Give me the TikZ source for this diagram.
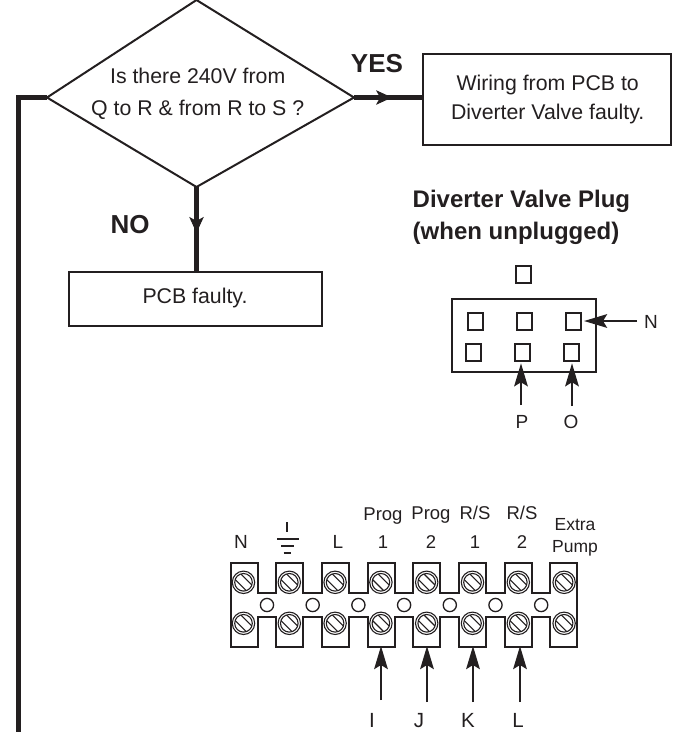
\documentclass[tikz,border=0pt]{standalone}
\usepackage{fontspec}
\setmainfont{Liberation Sans}
\usetikzlibrary{arrows.meta,decorations.markings}
\definecolor{ink}{HTML}{231F20}
\tikzset{
 x=1pt,y=-1pt,
 thin box/.style={draw,line width=2pt,fill=white,inner sep=0pt},
 pin/.style={draw,line width=2pt,fill=white,minimum width=15pt,minimum height=17.5pt,inner sep=0pt},
 label text/.style={font=\fontsize{21.3}{29}\selectfont,align=center,inner sep=0pt},
 small text/.style={font=\fontsize{19}{21}\selectfont,align=center,inner sep=0pt},
 bold text/.style={font=\bfseries\fontsize{26}{30}\selectfont,align=center,inner sep=0pt},
 pointer/.style={line width=2.6pt,-{Stealth[length=23pt,width=13.5pt,inset=4pt]}},
 heavy/.style={line width=5pt},
 midhead/.style={postaction={decorate,decoration={markings,mark=at position #1 with {\arrow[line width=1pt]{Stealth[length=16pt,width=14.5pt,inset=4pt]}}}}},
}
\newcommand{\screw}[2]{%
 \draw[line width=1.1pt,fill=white] (#1,#2) circle (11.2);
 \draw[line width=1.1pt] (#1,#2) circle (8.8);
 \begin{scope}[shift={(#1,#2)}]
 \clip (0,0) circle (8.8);
 \draw[line width=1.1pt] (-9,-3.4)--(3.4,9) (-3.4,-9)--(9,3.4);
 \end{scope}}
\begin{document}
\begin{tikzpicture}[color=ink]
\useasboundingbox (0,0) rectangle (684,732);
% flow
\coordinate (dT) at (196.5,0);
\coordinate (dL) at (47,97.5);
\coordinate (dR) at (354,97.5);
\coordinate (dB) at (196.5,187);
\coordinate (leftEnd) at (18.5,732);
\coordinate (leftCorner) at (18.5,97.5);
\node[thin box,minimum width=248pt,minimum height=91pt] (wiring) at (547,99) {};
\node[label text] (wiringT) at (547.7,99.5) {Wiring from PCB to\\Diverter Valve faulty.};
\node[thin box,minimum width=253pt,minimum height=54pt] (pcb) at (195.5,298.5) {};
\node[label text,anchor=base] (pcbT) at (195,303) {PCB faulty.};
\draw[heavy] (leftEnd) -- (leftCorner) -- (dL);
\draw[heavy,midhead=0.56] (dR) -- (wiring.west |- dR);
\draw[heavy,midhead=0.55] (dB) -- (dB |- pcb.north);
\draw[line width=2pt,line join=miter] (dT) -- (dR) -- (dB) -- (dL) -- cycle;
\node[label text,font=\fontsize{21.3}{32}\selectfont] (q) at (197.7,94) {Is there 240V from\\Q to R \& from R to S ?};
\node[bold text,anchor=base] (yes) at (377,72) {YES};
\node[bold text,anchor=base] (no) at (130,233) {NO};
\node[bold text,font=\bfseries\fontsize{24}{32}\selectfont,align=left,anchor=west] (plugT) at (412.5,217.5) {Diverter Valve Plug\\(when unplugged)};
% plug
\node[draw,line width=2pt,minimum width=144pt,minimum height=73pt,inner sep=0pt] (plug) at (523.5,335) {};
\node[pin] (p0) at (523.5,274.5) {};
\node[pin] (p1) at (475.5,321.5) {};
\node[pin] (p2) at (524.5,321.5) {};
\node[pin] (p3) at (573.5,321.5) {};
\node[pin] (p4) at (473.5,352.5) {};
\node[pin] (p5) at (522.5,352.5) {};
\node[pin] (p6) at (571.5,352.5) {};
\node[small text,anchor=base] (lN) at (651,328) {N};
\node[small text,anchor=base] (lP) at (522,428) {P};
\node[small text,anchor=base] (lO) at (571,428) {O};
\coordinate (aN) at (637,321);
\coordinate (aP) at (521,405);
\coordinate (aO) at (572,406);
\draw[pointer,shorten >=2pt] (aN) -- (aN -| p3.east);
\draw[pointer,shorten >=1pt] (aP) -- (aP |- p5.south);
\draw[pointer,shorten >=1pt] (aO) -- (aO |- p6.south);
% terminal block
\draw[line width=2pt,fill=white] (230.5,562.5)
 \foreach \i in {0,...,6} { -- ++(27,0) -- ++(0,30.5) -- ++(18.7,0) -- ++(0,-30.5) } -- ++(27,0)
 -- ++(0,84)
 \foreach \i in {0,...,6} { -- ++(-27,0) -- ++(0,-30) -- ++(-18.7,0) -- ++(0,30) } -- ++(-27,0) -- cycle;
\foreach \i in {0,...,7} {
 \pgfmathsetmacro{\xx}{243.5+45.8*\i}
 \screw{\xx}{582.3}\screw{\xx}{623.3}
}
\foreach \i in {0,...,6} {
 \pgfmathsetmacro{\xx}{267+45.7*\i}
 \draw[line width=1.3pt] (\xx,605) circle (6.6);
}
\node[small text,anchor=base] (tN) at (241,548) {N};
\draw[line width=2pt] (287,522)--(287,532) (277,539)--(299,539) (281,546)--(294,546) (283.5,553)--(290.5,553);
\node[small text,anchor=base] (tL) at (338,548) {L};
\node[small text,font=\fontsize{18.5}{28}\selectfont] (t1) at (383,528) {Prog\\1};
\node[small text,font=\fontsize{18.5}{29}\selectfont] (t2) at (431,527.5) {Prog\\2};
\node[small text,font=\fontsize{18.5}{29}\selectfont] (t3) at (475,527.5) {R/S\\1};
\node[small text,font=\fontsize{18.5}{29}\selectfont] (t4) at (522,527.5) {R/S\\2};
\node[small text,font=\fontsize{17.5}{22}\selectfont] (t5) at (575,537) {Extra\\Pump};
\node[small text,font=\fontsize{20.5}{22}\selectfont,anchor=base] (lI) at (372,727) {I};
\node[small text,font=\fontsize{20.5}{22}\selectfont,anchor=base] (lJ) at (419,727) {J};
\node[small text,font=\fontsize{20.5}{22}\selectfont,anchor=base] (lK) at (468,727) {K};
\node[small text,font=\fontsize{20.5}{22}\selectfont,anchor=base] (lL) at (518,727) {L};
\coordinate (sI) at (381,700);\coordinate (eI) at (381,646);
\coordinate (sJ) at (427,702);\coordinate (eJ) at (427,646);
\coordinate (sK) at (473,702);\coordinate (eK) at (473,646);
\coordinate (sL) at (520,702);\coordinate (eL) at (520,646);
\draw[pointer] (sI)--(eI);
\draw[pointer] (sJ)--(eJ);
\draw[pointer] (sK)--(eK);
\draw[pointer] (sL)--(eL);
\end{tikzpicture}
\end{document}
